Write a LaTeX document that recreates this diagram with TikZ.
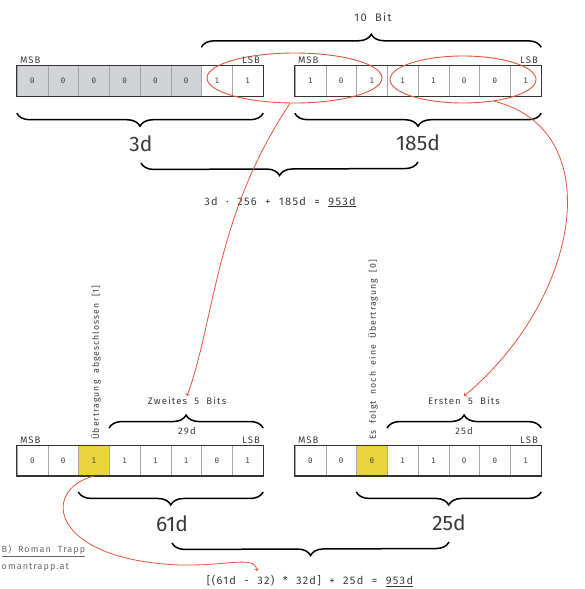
\documentclass[tikz,border=0pt]{standalone}
\usepackage{fontspec}
\setmainfont{Fira Sans}[LetterSpace=12,WordSpace=2]
\newfontfamily\bigfont{Fira Sans}
\newfontfamily\bitfont{DejaVu Sans Mono}
\usetikzlibrary{decorations.pathreplacing,shapes.geometric}
\definecolor{grau}{HTML}{D2D3D7}
\definecolor{gelb}{HTML}{E8D43C}
\definecolor{rot}{HTML}{E2553A}
\definecolor{schrift}{HTML}{3A3A3A}

\begin{document}
\begin{tikzpicture}[x=1pt,y=-1pt,
    bit/.style={draw=black!35, minimum width=30.75pt, minimum height=30.5pt, inner sep=0pt, font=\bitfont\fontsize{7.5}{9}\selectfont, text=black!75},
    frame/.style={draw=black!80, line width=1.1pt},
    brace/.style={decorate, decoration={brace, amplitude=13pt}, line width=1.5pt},
    lbl/.style={font=\fontsize{9.5}{11}\selectfont, text=schrift, inner sep=1pt},
    mid/.style={font=\fontsize{11}{13}\selectfont, text=schrift},
    big/.style={font=\bigfont\fontsize{21}{24}\selectfont, text=schrift},
    ring/.style={ellipse, draw=rot, line width=0.9pt},
    pfeil/.style={->, draw=rot, line width=0.8pt}]
    \useasboundingbox (0,0) rectangle (584,589);

    % Oben: 3d und 185d
    \foreach \b/\f [count=\i from 0] in {0/grau,0/grau,0/grau,0/grau,0/grau,0/grau,1/white,1/white}
    \node[bit, fill=\f] (a\i) at ({17+30.75*(\i+0.5)}, 80.75) {\b};
    \foreach \b [count=\i from 0] in {1,0,1,1,1,0,0,1}
    \node[bit] (b\i) at ({295+30.75*(\i+0.5)}, 80.75) {\b};
    \draw[frame] (a0.north west) rectangle (a7.south east);
    \draw[frame] (b0.north west) rectangle (b7.south east);

    \draw[brace] ([yshift=18pt]a6.north west) -- ([yshift=18pt]b7.north east);
    \node[mid] (bits) at (373,17) {10 Bit};

    \draw[brace] ([yshift=-17pt]a7.south east) -- ([yshift=-17pt]a0.south west);
    \draw[brace] ([yshift=-17pt]b7.south east) -- ([yshift=-17pt]b0.south west);
    \node[big] (v3) at (141,144) {3d};
    \node[big] (v185) at (418,143) {185d};
    \draw[brace] ([yshift=-19pt]v185.center) -- ([yshift=-19pt]v3.center);
    \node[mid] (sum1) at (280,202) {3d · 256 + 185d = \underline{953d}};

    % Ellipsen
    \node[ring, minimum width=175pt, minimum height=50pt] (e1) at (294.5,78) {};
    \node[ring, minimum width=146pt, minimum height=47pt] (e2) at (463,79.5) {};

    % Unten: 61d und 25d
    \foreach \b/\f [count=\i from 0] in {0/white,0/white,1/gelb,1/white,1/white,1/white,0/white,1/white}
    \node[bit, fill=\f] (c\i) at ({17+30.75*(\i+0.5)}, 460.5) {\b};
    \foreach \b/\f [count=\i from 0] in {0/white,0/white,0/gelb,1/white,1/white,0/white,0/white,1/white}
    \node[bit, fill=\f] (d\i) at ({295+30.75*(\i+0.5)}, 460.5) {\b};
    \draw[frame] (c0.north west) rectangle (c7.south east);
    \draw[frame] (d0.north west) rectangle (d7.south east);

    \foreach \r in {a,b,c,d} {
        \node[lbl, anchor=south west] (msb\r) at ([xshift=2pt]\r0.north west) {MSB};
        \node[lbl, anchor=south east] (lsb\r) at ([xshift=-2pt]\r7.north east) {LSB};
    }

    \draw[brace] ([yshift=17pt]c3.north west) -- ([yshift=17pt]c7.north east);
    \draw[brace] ([yshift=17pt]d3.north west) -- ([yshift=17pt]d7.north east);
    \node[lbl] (z5) at (187,401) {Zweites 5 Bits};
    \node[lbl] (w29) at (187,431) {29d};
    \node[lbl] (e5) at (464,401) {Ersten 5 Bits};
    \node[lbl] (w25) at (464,431) {25d};

    \node[lbl, font=\fontsize{8.7}{10}\selectfont, rotate=90, anchor=west] (t1) at (96,441) {Übertragung abgeschlossen [1]};
    \node[lbl, font=\fontsize{8.7}{10}\selectfont, rotate=90, anchor=west] (t0) at (373,441) {Es folgt noch eine Übertragung [0]};

    \draw[brace] ([yshift=-16pt]c7.south east) -- ([yshift=-16pt]c2.south west);
    \draw[brace] ([yshift=-16pt]d7.south east) -- ([yshift=-16pt]d2.south west);
    \node[big] (v61) at (172,524) {61d};
    \node[big] (v25) at (449,523) {25d};
    \draw[brace] ([yshift=-19pt]v25.center) -- ([yshift=-19pt]v61.center);
    \node[mid] (sum2) at (310,581) {[(61d - 32) * 32d] + 25d = \underline{953d}};

    % Pfeile
    \coordinate (c32) at (257,571);
    \draw[pfeil] (e1.260) .. controls (215,215) and (215,320) .. (z5.north);
    \draw[pfeil] (e2.-35) .. controls (610,130) and (580,300) .. (e5.north);
    \draw[pfeil] (c2.south) .. controls (40,490) and (50,560) .. (180,565) .. controls (230,566) and (255,555) .. (c32);

    % Copyright
    \node[lbl, font=\fontsize{9}{10}\selectfont, anchor=west, text=black!60] (cr1) at (0.5,551) {\underline{B) Roman Trapp}};
    \node[lbl, font=\fontsize{9}{10}\selectfont, anchor=west, text=black!60] (cr2) at (0.5,567) {omantrapp.at};
\end{tikzpicture}
\end{document}
